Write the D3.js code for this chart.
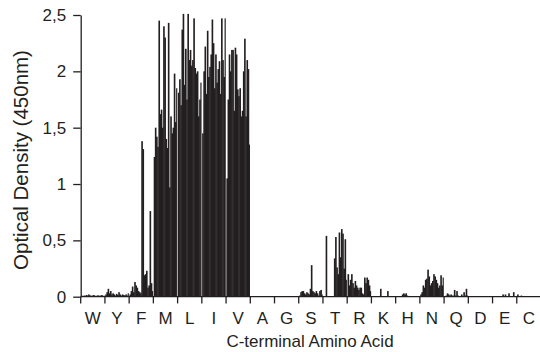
<!DOCTYPE html>
<html>
<head>
<meta charset="utf-8">
<script src="https://cdn.jsdelivr.net/npm/d3@7/dist/d3.min.js"></script>
<style>
  html, body { margin: 0; padding: 0; background: #fff; }
  svg { display: block; }
  text { font-family: "Liberation Sans", Arial, Helvetica, sans-serif; fill: #231f20; }
</style>
</head>
<body>
<svg id="chart" width="540" height="352"></svg>
<script>
// ---- data ----
const categories = ["W","Y","F","M","L","I","V","A","G","S","T","R","K","H","N","Q","D","E","C"];
const yTickValues = [0, 0.5, 1, 1.5, 2, 2.5];

const valuesW = [0.01,0.005,0.01,0.008,0.015,0.01,0.02,0.012,0.008,0.01,0.015,0.01,0.005,0.01,0.012,0.008,0.01,0.015,0.005,0.01];
const valuesY = [0.02,0.04,0.07,0.03,0.05,0.02,0.03,0.02,0.01,0.025,0.015,0.04,0.02,0.01,0.02,0.015,0.01,0.02,0.01,0.03];
const valuesF = [0.02,0.05,0.09,0.04,0.13,0.1,0.08,0.05,0.04,0.03,1.38,1.31,0.19,0.2,0.23,0.08,0.1,0.76,0.12,0.05];
const valuesM = [1.24,1.5,1.42,1.33,2.45,1.62,1.66,1.5,2.4,2.3,1.4,1.32,2.43,0.97,1.6,1.45,1.5,1.98,1.55,1.85];
const valuesL = [1.81,1.93,1.7,2.37,2.51,1.88,2.2,1.75,2.51,2.1,2.19,2.05,2.1,2.47,2.03,1.98,2.0,1.6,1.75,1.9];
const valuesI = [1.45,2.0,2.22,1.8,2.36,1.95,2.04,2.15,2.46,2.25,1.85,2.15,1.9,2.02,2.09,1.8,2.47,2.1,1.95,2.47];
const valuesV = [1.05,1.75,2.15,2.0,2.19,2.19,1.65,2.21,2.15,1.84,1.78,1.85,1.6,1.65,2.0,2.29,1.6,2.1,2.02,1.35];
const valuesA = [0,0,0,0,0,0,0,0,0,0,0,0,0,0,0,0,0,0,0,0];
const valuesG = [0,0,0,0,0,0,0,0,0,0,0,0,0,0,0,0,0,0,0,0];
const valuesS = [0.01,0.04,0.05,0.05,0.03,0.02,0.04,0.03,0.02,0.07,0.28,0.05,0.04,0.03,0.05,0.03,0.01,0.05,0.06,0.02];
const valuesT = [0,0,0.54,0,0,0,0,0,0,0.34,0.53,0.26,0.2,0.57,0.35,0.6,0.56,0.25,0.51,0.15];
const valuesR = [0.2,0.1,0.15,0.2,0.12,0.08,0.14,0.1,0.08,0.06,0.08,0.08,0.03,0.02,0.17,0.12,0.17,0.15,0.1,0.05];
const valuesK = [0,0,0,0,0,0,0,0.07,0,0,0,0,0,0.05,0,0,0,0,0,0];
const valuesH = [0,0,0,0,0,0.02,0.03,0.02,0.03,0.01,0,0,0,0,0,0,0,0,0,0];
const valuesN = [0.02,0.04,0.1,0.08,0.15,0.16,0.24,0.18,0.1,0.12,0.14,0.2,0.18,0.15,0.12,0.08,0.1,0.19,0.1,0.17];
const valuesQ = [0,0.01,0.03,0.02,0.01,0.02,0.01,0.01,0.06,0.01,0.05,0.01,0,0,0.02,0,0.04,0.01,0.07,0.01];
const valuesD = [0,0,0,0,0,0,0,0,0,0,0,0,0,0,0,0,0,0,0,0];
const valuesE = [0,0,0,0,0,0,0,0,0.02,0,0.02,0,0,0.03,0,0,0,0.04,0,0];
const valuesC = [0.02,0,0,0.01,0,0,0,0,0,0,0,0,0,0,0,0,0,0,0,0];

const seriesByCategory = [valuesW,valuesY,valuesF,valuesM,valuesL,valuesI,valuesV,valuesA,valuesG,
  valuesS,valuesT,valuesR,valuesK,valuesH,valuesN,valuesQ,valuesD,valuesE,valuesC];

// ---- layout ----
const svg = d3.select("#chart");
const ink = "#231f20";
const x0 = 80.7, x1 = 541, yBase = 296.7, yTop = 15;

const x = d3.scaleBand().domain(categories).range([x0, x1]).paddingInner(0).paddingOuter(0);
const y = d3.scaleLinear().domain([0, 2.5]).range([yBase, yTop]);

const bars = [];
categories.forEach((c, ci) => {
  seriesByCategory[ci].forEach((v, i) => bars.push({cat: c, idx: i, value: v}));
});
const nPer = seriesByCategory[0].length;
const inner = d3.scaleBand().domain(d3.range(nPer)).range([0.3, x.bandwidth() - 0.3]).padding(0);

svg.append("g").selectAll("rect").data(bars.filter(d => d.value > 0)).join("rect")
  .attr("x", d => x(d.cat) + inner(d.idx))
  .attr("width", d => inner.bandwidth() + (d.idx < nPer - 1 ? 0.45 : 0))
  .attr("y", d => y(d.value))
  .attr("height", d => yBase - y(d.value))
  .attr("fill", ink);

// y axis
const locale = d3.formatLocale({decimal: ",", thousands: ".", grouping: [3], currency: ["", ""]});
const fmt = locale.format(".1~f");
const yAxis = d3.axisLeft(y).tickValues(yTickValues).tickFormat(fmt).tickSize(7.5).tickSizeOuter(0).tickPadding(7);
const gy = svg.append("g").attr("transform", `translate(${x0},0)`).call(yAxis);
gy.select(".domain").attr("stroke", ink).attr("stroke-width", 1.3);
gy.selectAll(".tick line").attr("stroke", ink).attr("stroke-width", 1.3);
gy.selectAll(".tick text").attr("font-size", 17).attr("font-family", "Liberation Sans, Arial, sans-serif").attr("fill", ink);

// x axis (boundary ticks, centered labels)
const gx = svg.append("g");
gx.append("line").attr("x1", x0).attr("x2", 540).attr("y1", yBase).attr("y2", yBase)
  .attr("stroke", ink).attr("stroke-width", 1.3);
gx.selectAll("line.tk").data(categories).join("line").attr("class", "tk")
  .attr("x1", d => x(d)).attr("x2", d => x(d))
  .attr("y1", yBase).attr("y2", yBase + 6.7)
  .attr("stroke", ink).attr("stroke-width", 1.3);
gx.selectAll("text").data(categories).join("text")
  .attr("x", d => x(d) + x.bandwidth() / 2)
  .attr("y", 324)
  .attr("text-anchor", "middle")
  .attr("font-size", 17)
  .text(d => d);

// titles
svg.append("text").attr("x", 310).attr("y", 347).attr("text-anchor", "middle")
  .attr("font-size", 17).text("C-terminal Amino Acid");
svg.append("text").attr("transform", "translate(28,160) rotate(-90)").attr("text-anchor", "middle")
  .attr("font-size", 20.5).text("Optical Density (450nm)");
</script>
</body>
</html>
